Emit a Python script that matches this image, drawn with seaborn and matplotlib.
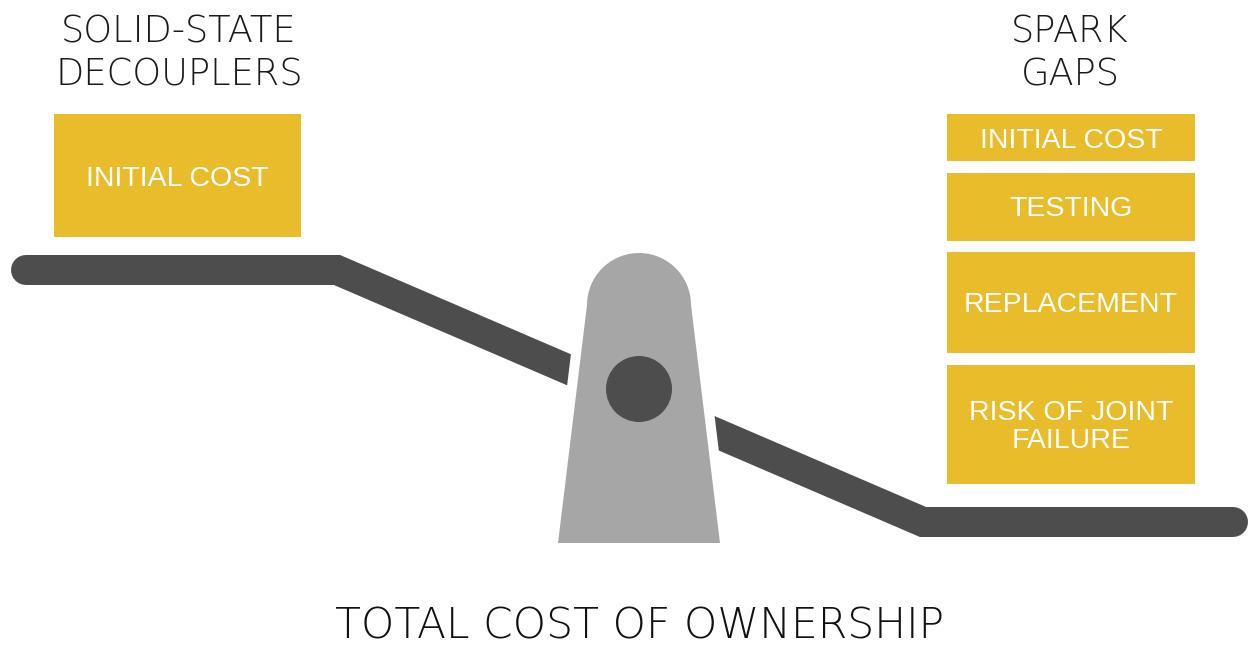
import matplotlib.pyplot as plt
import seaborn as sns
import numpy as np
from matplotlib.patches import Polygon, Circle

# 数据
left_title = "SOLID-STATE\nDECOUPLERS"
right_title = "SPARK\nGAPS"
chart_title = "TOTAL COST OF OWNERSHIP"
left_labels = ["INITIAL COST"]
left_costs = [123]
right_labels = ["INITIAL COST", "TESTING", "REPLACEMENT", "RISK OF JOINT\nFAILURE"]
right_costs = [47, 68, 101, 119]

sns.set_theme(style="white")
plt.rcParams['font.family'] = ['DejaVu Sans']

GOLD = "#e8bc2a"
DARK = "#4d4d4d"
GREY = "#a6a6a6"
PX = 0.72  # 像素 -> 磅

fig = plt.figure(figsize=(12.49, 6.48), dpi=100)
ax = fig.add_axes([0, 0, 1, 1])
ax.set_xlim(0, 1249)
ax.set_ylim(648, 0)
ax.axis('off')


def draw_stack(x_left, width, top, labels, costs, gap=12):
    """从上往下堆叠成本方块"""
    bottoms = []
    y = top
    for c in costs:
        bottoms.append(y)
        y += c + gap
    ax.bar(x_left, costs, width=width, bottom=bottoms, align='edge',
           color=GOLD, edgecolor='none', zorder=2)
    for lab, b, c in zip(labels, bottoms, costs):
        ax.text(x_left + width / 2, b + c / 2 + 3, lab, color='white',
                fontsize=20.5, ha='center', va='center', linespacing=1.05,
                family='Liberation Sans', zorder=3)


draw_stack(54, 247, 114, left_labels, left_costs)
draw_stack(947, 248, 114, right_labels, right_costs, gap=11.5)

# 杠杆
ax.plot([26, 337, 923, 1233], [270, 270, 522, 522], color=DARK,
        lw=30 * PX, solid_capstyle='round', solid_joinstyle='miter', zorder=1)

# 支点
t = np.linspace(np.pi, 0, 40)
arc_x = 639 + 52 * np.cos(t)
arc_y = 305 - 52 * np.sin(t)
xs = np.concatenate([[558], arc_x, [720]])
ys = np.concatenate([[543], arc_y, [543]])
pts = np.column_stack([xs, ys])
ax.add_patch(Polygon(pts, closed=True, facecolor='white', edgecolor='white',
                     lw=20 * PX, joinstyle='miter', zorder=3))
ax.add_patch(Polygon(pts, closed=True, facecolor=GREY, edgecolor='none', zorder=4))
ax.add_patch(Circle((639, 389), 33, facecolor=DARK, edgecolor='none', zorder=5))

# 标题
ax.text(179, 53, left_title, fontsize=26.5, fontweight='light', ha='center',
        va='center', linespacing=1.25, color='#1a1a1a')
ax.text(1070, 53, right_title, fontsize=26.5, fontweight='light', ha='center',
        va='center', linespacing=1.25, color='#1a1a1a')
ax.text(640, 626, chart_title, fontsize=30.5, fontweight='light', ha='center',
        va='center', color='#111111')

fig.savefig("out.png", dpi=100, facecolor='white')
plt.close(fig)
